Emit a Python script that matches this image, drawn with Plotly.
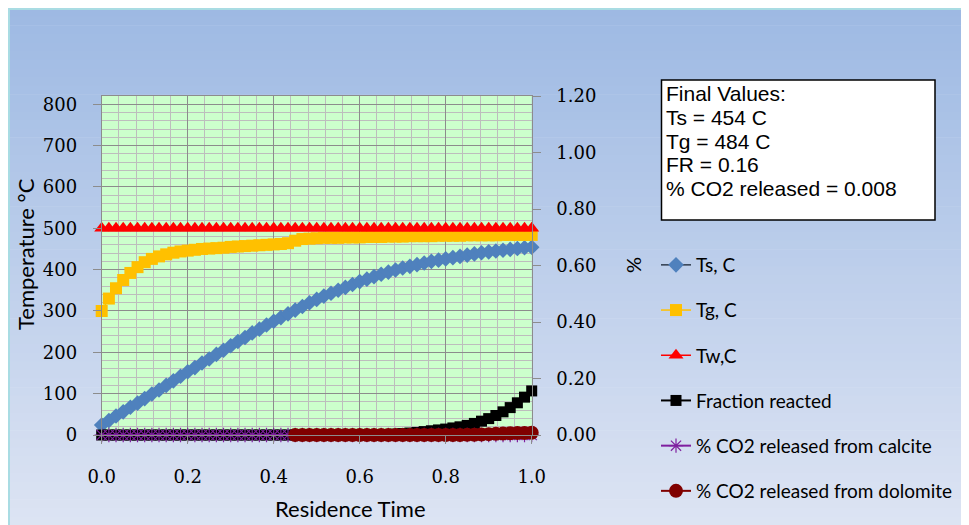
import plotly.graph_objects as go

# ---------------- data ----------------
residence_time = [round(i / 60, 4) for i in range(61)]

ts_c = [24, 35, 46, 56, 67, 77, 88, 99, 109, 120,
        131, 142, 153, 163, 174, 184, 195, 205, 216, 226,
        236, 247, 256, 266, 275, 284, 293, 302, 311, 320,
        328, 336, 343, 350, 357, 364, 371, 377, 383, 389,
        394, 399, 404, 408, 412, 416, 420, 423, 426, 429,
        432, 435, 438, 441, 443, 445, 447, 449, 451, 453, 454]

tg_c = [300, 330, 355, 375, 392, 406, 418, 426, 432, 437,
        441, 444, 446, 448, 450, 451, 452, 453, 455, 456,
        457, 458, 459, 460, 461, 462, 464, 470, 474, 475,
        476, 477, 477, 477, 478, 478, 478, 479, 479, 479,
        480, 480, 480, 481, 481, 481, 481, 482, 482, 482,
        482, 483, 483, 483, 483, 483, 484, 484, 484, 484, 484]

tw_c = [500] * 61

fraction_reacted = [0.0] * 40 + [0.002, 0.003, 0.005, 0.007, 0.009, 0.012, 0.015,
                                 0.018, 0.021, 0.025, 0.029, 0.034, 0.041, 0.049,
                                 0.058, 0.069, 0.082, 0.097, 0.114, 0.134, 0.156]

co2_calcite = [0.0] * 61

dolomite_time = residence_time[27:]
co2_dolomite = [0.0] * 24 + [0.001, 0.001, 0.002, 0.003, 0.004, 0.005, 0.006,
                             0.007, 0.007, 0.008]

legend_names = ["Ts, C", "Tg, C", "Tw,C", "Fraction reacted",
                "% CO2 released from calcite", "% CO2 released from dolomite"]

final_lines = ["Final Values:", "Ts = 454 C", "Tg = 484 C", "FR = 0.16",
               "% CO2 released = 0.008"]

left_ticks = [0, 100, 200, 300, 400, 500, 600, 700, 800]
right_ticks = [0.0, 0.2, 0.4, 0.6, 0.8, 1.0, 1.2]
x_ticks = [0.0, 0.2, 0.4, 0.6, 0.8, 1.0]

# ---------------- figure ----------------
# the page has an 8px body margin, so the figure covers page pixels 8..969 / 8..525
OFF = 8
W, H = 969 - OFF, 525 - OFF
px = lambda x: (x - OFF) / W
py = lambda y: 1 - (y - OFF) / H

fig = go.Figure()

fig.add_trace(go.Scatter(
    x=residence_time, y=ts_c, name=legend_names[0], mode="lines+markers",
    line=dict(color="#2F3B4C", width=1.5),
    marker=dict(symbol="diamond", size=12, color="#4F81BD", line=dict(width=0)),
    cliponaxis=False, legendgroup="a"))
fig.add_trace(go.Scatter(
    x=residence_time, y=tg_c, name=legend_names[1], mode="lines+markers",
    line=dict(color="#FFC000", width=1.5),
    marker=dict(symbol="square", size=12, color="#FFC000", line=dict(width=0)),
    cliponaxis=False, legendgroup="b"))
fig.add_trace(go.Scatter(
    x=residence_time, y=tw_c, name=legend_names[2], mode="lines+markers",
    line=dict(color="#FF0000", width=1.5),
    marker=dict(symbol="triangle-up", size=13, color="#FF0000", line=dict(width=0)),
    cliponaxis=False, legendgroup="c"))
fig.add_trace(go.Scatter(
    x=residence_time, y=fraction_reacted, name=legend_names[3], mode="lines+markers",
    line=dict(color="#000000", width=2),
    marker=dict(symbol="square", size=11, color="#000000", line=dict(width=0)),
    cliponaxis=False, yaxis="y2", legendgroup="d"))
fig.add_trace(go.Scatter(
    x=residence_time, y=co2_calcite, name=legend_names[4], mode="lines+markers",
    line=dict(color="#7F1F9F", width=2),
    marker=dict(symbol="asterisk-open", size=12, color="#7F1F9F",
                line=dict(width=1.2, color="#7F1F9F")),
    cliponaxis=False, yaxis="y2", legendgroup="e"))
fig.add_trace(go.Scatter(
    x=dolomite_time, y=co2_dolomite, name=legend_names[5], mode="lines+markers",
    line=dict(color="#800000", width=2),
    marker=dict(symbol="circle", size=14, color="#800000", line=dict(width=0)),
    cliponaxis=False, yaxis="y2", legendgroup="f"))

# background gradient bands
shapes = []
n = 60
top, bot = 8, 525
c0 = (157, 185, 227)
c1 = (221, 228, 243)
for i in range(n):
    y0 = top + (bot - top) * i / n
    y1 = top + (bot - top) * (i + 1) / n + 0.6
    t = (i + 0.5) / n
    col = "rgb(%d,%d,%d)" % tuple(round(a + (b - a) * t) for a, b in zip(c0, c1))
    shapes.append(dict(type="rect", xref="paper", yref="paper", layer="below",
                       x0=px(8), x1=1, y0=py(y1), y1=py(y0),
                       fillcolor=col, line=dict(width=0)))
# light cyan border
shapes.append(dict(type="line", xref="paper", yref="paper", layer="below",
                   x0=px(8), x1=1, y0=py(9), y1=py(9), line=dict(color="#A9DCE3", width=2)))
shapes.append(dict(type="line", xref="paper", yref="paper", layer="below",
                   x0=px(9), x1=px(9), y0=py(9), y1=0, line=dict(color="#A9DCE3", width=2)))
# plot area fill
shapes.append(dict(type="rect", xref="paper", yref="paper", layer="below",
                   x0=px(101.7), x1=px(531.7), y0=py(435), y1=py(96),
                   fillcolor="#CCFFCC", line=dict(width=0)))
# text box
shapes.append(dict(type="rect", xref="paper", yref="paper", layer="above",
                   x0=px(661.5), x1=px(935), y0=py(220), y1=py(80),
                   fillcolor="white", line=dict(color="black", width=1.5)))

annotations = []
for k, line in enumerate(final_lines):
    annotations.append(dict(xref="paper", yref="paper", x=px(664), y=py(94 + 23.5 * k),
                            xanchor="left", yanchor="middle", showarrow=False, text=line,
                            font=dict(family="Liberation Sans", size=21, color="black")))
annotations.append(dict(xref="paper", yref="paper", x=px(26), y=py(254), text="Temperature °C",
                        textangle=-90, showarrow=False, xanchor="center", yanchor="middle",
                        font=dict(family="Lato", size=22, color="black")))
annotations.append(dict(xref="paper", yref="paper", x=px(350), y=py(508), text="Residence Time",
                        showarrow=False, xanchor="center", yanchor="middle",
                        font=dict(family="Lato", size=22, color="black")))
annotations.append(dict(xref="paper", yref="paper", x=px(633), y=py(265), text="%",
                        textangle=-90, showarrow=False, xanchor="center", yanchor="middle",
                        font=dict(family="Lato", size=20, color="black")))

tick_font = dict(family="DejaVu Serif", size=18, color="black")

fig.update_layout(
    width=W, height=H,
    margin=dict(l=0, r=0, t=0, b=0, autoexpand=False),
    paper_bgcolor="white",
    plot_bgcolor="rgba(0,0,0,0)",
    shapes=shapes,
    annotations=annotations,
    showlegend=True,
    legend=dict(x=px(656), y=py(246), xanchor="left", yanchor="top",
                bgcolor="rgba(0,0,0,0)", borderwidth=0,
                traceorder="grouped", tracegroupgap=17.5,
                font=dict(family="Lato", size=19, color="black")),
    xaxis=dict(domain=[px(101.7), px(531.7)], range=[0, 1],
               tickvals=x_ticks, tickformat=".1f",
               showgrid=True, gridcolor="#8C8C8C", gridwidth=1,
               minor=dict(dtick=0.04, showgrid=True, gridcolor="#BDBDBD", gridwidth=1),
               showline=True, linecolor="#8C8C8C", linewidth=1, mirror=True,
               ticks="outside", ticklen=8, tickcolor="#8C8C8C",
               ticklabelstandoff=17, tickfont=tick_font, zeroline=False),
    yaxis=dict(domain=[py(435), py(96)], range=[0, 820],
               tickvals=left_ticks,
               showgrid=True, gridcolor="#8C8C8C", gridwidth=1,
               minor=dict(dtick=20, showgrid=True, gridcolor="#BDBDBD", gridwidth=1),
               showline=True, linecolor="#8C8C8C", linewidth=1,
               ticks="outside", ticklen=8, tickcolor="#8C8C8C",
               ticklabelstandoff=12, tickfont=tick_font, zeroline=False),
    yaxis2=dict(overlaying="y", side="right", range=[0, 1.2],
                tickvals=right_ticks, tickformat=".2f",
                showgrid=False, showline=True, linecolor="#8C8C8C", linewidth=1,
                ticks="outside", ticklen=8, tickcolor="#8C8C8C",
                ticklabelstandoff=12, tickfont=tick_font, zeroline=False),
)

fig.write_html("out.html")
